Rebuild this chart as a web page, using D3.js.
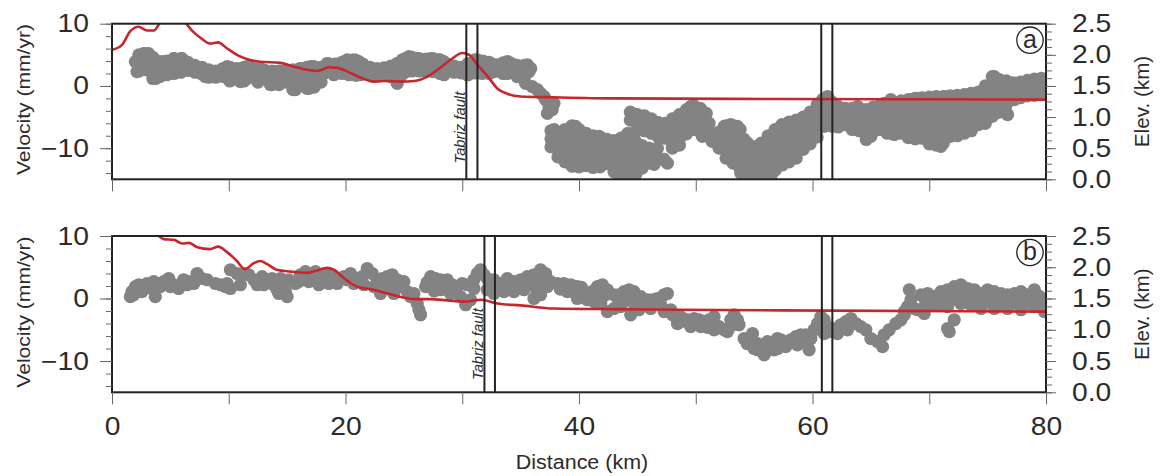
<!DOCTYPE html>
<html><head><meta charset="utf-8">
<script src="https://cdn.jsdelivr.net/npm/d3@7"></script>
<style>
body{margin:0;background:#fff}
svg{display:block}
text{font-family:"Liberation Sans",Arial,Helvetica,sans-serif;fill:#2b2b2b}
</style>
</head><body>
<svg id="chart" width="1161" height="476"></svg>
<script>
// ---------- data ----------
const distDomain = [0, 80];
const velDomain = [-15, 10];
const elevDomain = [0, 2.5];
const distTicksAll = [0, 10, 20, 30, 40, 50, 60, 70, 80];
const distTickLabels = [0, 20, 40, 60, 80];
const velTicks = [-10, 0, 10];
const velMinorTicks = [-14, -12, -10, -8, -6, -4, -2, 0, 2, 4, 6, 8, 10];
const elevTicks = [0, 0.5, 1.0, 1.5, 2.0, 2.5];
const elevMinorTicks = [0, 0.125, 0.25, 0.375, 0.5, 0.625, 0.75, 0.875, 1, 1.125, 1.25, 1.375, 1.5, 1.625, 1.75, 1.875, 2, 2.125, 2.25, 2.375, 2.5];
const panelLabels = ["a", "b"];
const faultsA = [30.35, 31.3, 60.75, 61.7];
const faultsB = [31.9, 32.8, 60.8, 61.7];
const faultName = "Tabriz fault";

// elevation profiles (km, elevation km)
const elevA = [[0,2.08],[0.86,2.16],[1.57,2.38],[2.28,2.45],[3.0,2.39],[3.6,2.39],[4.1,2.51],[5.2,2.62],[6.3,2.51],[6.9,2.38],[7.6,2.27],[8.4,2.18],[9.1,2.2],[9.8,2.11],[10.7,2.0],[11.6,1.93],[12.7,1.89],[14.4,1.87],[15.6,1.81],[16.7,1.76],[17.6,1.74],[18.6,1.80],[19.3,1.79],[20.4,1.71],[21.6,1.61],[22.4,1.57],[23.6,1.58],[24.7,1.57],[25.9,1.58],[27.0,1.65],[28.1,1.79],[29.0,1.92],[30.0,2.03],[30.6,2.0],[31.3,1.84],[32.2,1.65],[33.0,1.46],[33.9,1.37],[35.0,1.33],[37.3,1.32],[43,1.30],[57.3,1.29],[80,1.28]];
const elevB = [[0,2.75],[2,2.7],[3.2,2.58],[4.0,2.5],[4.43,2.45],[5.3,2.44],[6.0,2.38],[6.6,2.39],[7.3,2.32],[8.4,2.29],[9.1,2.33],[9.8,2.25],[10.6,2.12],[11.4,1.97],[12.1,2.06],[12.7,2.10],[13.3,2.05],[14.1,1.96],[15.3,1.93],[16.7,1.91],[17.6,1.95],[18.4,1.99],[19.0,1.96],[19.9,1.82],[21.0,1.69],[22.4,1.64],[23.6,1.58],[24.4,1.54],[25.9,1.49],[27.3,1.49],[28.7,1.47],[30.2,1.45],[31.6,1.48],[33.0,1.42],[35.0,1.39],[37.9,1.34],[43,1.33],[48.7,1.32],[57.3,1.31],[80,1.29]];

// velocity points (km, mm/yr) — individually read dots
const velA = [[2.0,3.9],[2.14,2.3],[2.43,4.7],[2.71,5.2],[3.14,5.2],[3.0,3.6],[2.57,3.1],[3.71,1.2],[3.86,1.8],[4.14,2.6],[4.71,3.4],[5.0,3.9],[5.29,4.4],[5.57,4.2],[6.0,4.4],[6.29,3.9],[6.43,2.8],[5.86,2.8],[4.71,2.3],[4.29,2.0],[3.86,3.1],[4.43,3.9],[6.86,3.1],[7.29,2.6],[7.86,2.6],[8.29,2.0],[8.71,1.8],[9.29,2.3],[9.86,3.1],[10.14,1.0],[10.43,1.5],[9.57,1.5],[9.0,1.8],[7.57,2.8],[8.0,1.5],[10.71,2.3],[11.0,0.7],[11.57,3.1],[12.14,2.6],[12.71,2.8],[13.29,2.0],[13.57,0.2],[14.14,0.4],[14.71,1.8],[12.43,1.0],[13.0,1.2],[11.57,1.2],[13.86,2.3],[15.0,1.0],[15.29,0.7],[15.71,-0.6],[16.14,0.2],[16.43,1.5],[16.86,-0.4],[17.29,-0.1],[17.71,1.0],[18.14,2.0],[18.43,3.6],[17.86,2.8],[17.0,3.1],[16.14,2.8],[15.57,2.3],[18.71,2.6],[19.0,3.1],[19.57,3.6],[20.14,4.2],[20.71,4.2],[21.14,3.9],[21.57,3.1],[22.14,2.6],[22.71,2.0],[23.29,1.8],[23.86,2.3],[24.43,3.6],[24.71,1.5],[20.43,2.3],[21.29,1.8],[19.0,1.8],[19.71,2.0],
[23.14,2.3],[23.57,2.8],[24.14,2.6],[24.43,0.4],[23.86,1.5],[24.71,2.0],[24.86,4.2],[25.43,4.7],[26.14,4.4],[26.71,4.2],[27.29,4.4],[27.86,4.2],[28.43,3.9],[25.29,3.1],[26.43,2.8],[27.57,2.6],[28.43,1.8],[24.71,3.1],[25.86,3.4],[27.0,3.4],[29.0,3.1],[29.57,2.6],[30.14,2.3],[30.71,3.6],[31.29,4.2],[31.86,3.9],[32.43,3.6],[33.0,3.1],[33.86,3.9],[34.43,3.4],[35.0,3.1],[35.57,3.4],[30.43,1.8],[31.57,2.3],[32.71,2.3],[33.86,2.0],[35.0,1.5],[35.43,0.4],[35.71,2.3],[35.86,2.8],[36.0,-0.1],[36.43,-0.6],[36.71,-1.2],[37.14,-2.2],[37.43,-3.3],[37.71,-3.8],[37.29,-4.4],[37.86,-2.8],[37.0,-1.7],
[37.86,-7.0],[38.0,-8.6],[38.14,-9.7],[38.43,-8.1],[38.86,-7.3],[39.29,-6.8],[39.71,-6.5],[40.14,-7.6],[40.43,-8.6],[40.86,-9.2],[41.29,-9.7],[41.71,-8.1],[42.14,-8.6],[42.71,-9.2],[43.14,-9.7],[43.57,-9.2],[44.14,-8.1],[44.71,-9.2],[45.14,-10.2],[45.57,-11.0],[46.14,-10.5],[46.71,-10.0],[47.29,-11.8],[47.57,-12.4],[38.43,-10.8],[39.0,-11.8],[39.43,-12.9],[39.86,-11.3],[40.71,-11.0],[41.57,-11.3],[42.43,-11.8],[43.0,-12.9],[43.57,-14.2],[44.71,-14.0],[45.57,-12.4],[46.43,-12.6],[40.14,-12.4],[41.29,-12.6],[42.43,-10.8],[44.14,-10.8],[39.57,-9.7],[39.0,-9.2],[43.29,-14.0],[44.86,-14.2],
[44.57,-4.4],[45.0,-5.2],[45.57,-4.9],[46.14,-5.7],[46.71,-6.2],[47.29,-7.6],[47.86,-6.5],[48.43,-5.4],[49.0,-4.4],[49.57,-3.3],[50.14,-3.8],[50.71,-4.9],[51.14,-6.0],[45.86,-6.5],[47.0,-8.1],[48.14,-8.6],[49.0,-7.3],[49.86,-6.0],[50.43,-7.0],[47.86,-7.6],[46.43,-7.6],
[50.57,-8.1],[51.29,-7.8],[51.86,-8.4],[52.43,-6.5],[53.0,-6.2],[53.57,-6.5],[52.71,-11.3],[53.29,-9.7],[53.86,-10.8],[54.43,-11.8],[55.0,-12.9],[55.57,-12.9],[56.14,-11.3],[56.57,-8.6],[57.0,-7.0],[57.29,-6.5],[52.14,-9.7],[54.43,-9.2],[55.29,-10.5],[55.86,-14.0],[56.71,-13.4],[53.86,-14.0],[54.71,-14.5],[56.43,-14.5],[57.0,-10.2],[53.57,-8.1],[54.14,-8.6],
[60.86,-2.2],[61.14,-3.3],[61.29,-1.7],[61.57,-4.9],[61.0,-6.5],[61.71,-6.5],[62.14,-4.4],[62.71,-3.8],[63.29,-4.4],[63.86,-3.3],[64.43,-4.4],[64.71,-5.7],[65.0,-8.1],[65.29,-6.5],[65.57,-3.8],[66.14,-2.8],[66.71,-2.2],[67.29,-3.8],[68.43,-2.2],[69.0,-2.0],[71.29,-1.7],[73.0,-1.7],[73.57,-1.2],[74.71,-1.2],[75.29,-0.6],[71.0,-9.7],[69.86,-8.6],[76.71,-4.6],[76.14,-3.8],[75.57,1.5],[75.86,-0.1],[76.43,0.7],[77.0,0.4],[77.57,-1.2],[78.14,-0.1],[78.71,0.4],[79.29,1.0],[79.86,-0.1],[79.9,-1.2],[76.14,-1.7],[77.29,-2.2],[78.43,-0.6],[79.57,-1.2],[75.29,-0.9]];

// dense parts of the clouds, read column by column: [km, vel, vel, ...]
const velACols = [
[2.3,5.0,3.7,2.4],[2.9,5.2,3.9,2.6],[3.5,4.6,3.3,2.0,1.2],[4.1,3.9,2.6,1.5],[4.7,4.0,2.7,1.8],[5.3,4.4,3.1,2.0],[5.9,4.4,3.1,2.2],[6.5,3.8,2.5],[7.1,3.3,2.2],[7.7,3.0,1.9],[8.3,2.6,1.4],[8.9,2.4,1.4],[9.5,2.8,1.6],[10.1,3.0,1.8,0.8],[10.7,2.8,1.6],[11.3,3.0,1.8,0.8],[11.9,3.0,1.8],[12.5,2.8,1.6,0.6],[13.1,2.5,1.3],[13.7,2.4,1.2,0.2],[14.3,2.4,1.2,0.2],[14.9,2.5,1.3,0.6],[15.5,2.6,1.4,0.2,-0.6],[16.1,2.8,1.6,0.4],[16.7,3.0,1.8,0.6,-0.4],[17.3,3.1,1.9,0.7,-0.2],[17.9,3.0,1.8,0.6],[18.5,3.6,2.4],[19.1,3.5,2.3],[19.7,3.8,2.6],[20.3,4.1,2.9,1.8],[20.9,4.1,2.9,1.7],[21.5,3.5,2.3],[22.1,3.0,1.8],[22.7,2.8,1.6],[23.3,2.9,1.7],[23.9,3.2,2.0],[24.5,3.6,2.4,1.2],[25.1,4.4,3.2,2.2],[25.7,4.6,3.4,2.4],[26.3,4.4,3.2,2.4],[26.9,4.3,3.1,2.3],[27.5,4.4,3.2,2.3],[28.1,4.2,3.0,2.0],[28.7,3.5,2.3],[29.3,3.2,2.2],[29.9,3.0,2.1],[30.5,3.6,2.4,1.8],[31.1,4.2,3.0,2.1],[31.7,4.0,2.8,2.0],[32.3,3.8,2.6,2.0],[32.9,3.4,2.4],[33.5,3.7,2.5,2.0],[34.1,3.7,2.5],[34.7,3.3,2.1,1.5],[35.3,3.3,2.1,1.0],
[37.6,-7.2,-8.5,-9.8],[38.2,-7.5,-8.8,-10.1,-11.4],[38.8,-7.0,-8.3,-9.6,-10.9,-12.2],[39.4,-6.4,-7.7,-9.0,-10.3,-11.6,-12.8],[40.0,-7.0,-8.3,-9.6,-10.9,-12.2,-13.0],[40.6,-7.6,-8.9,-10.2,-11.5,-12.8],[41.2,-8.0,-9.3,-10.6,-11.9,-13.1],[41.8,-8.2,-9.5,-10.8,-12.1,-13.0],[42.4,-8.6,-9.9,-11.2,-12.5],[43.0,-8.8,-10.1,-11.4,-12.7,-13.8],[43.6,-8.4,-9.7,-11.0,-12.3,-13.8],[44.2,-7.6,-8.9,-10.2,-11.5,-12.8,-14.1],[44.8,-8.8,-10.1,-11.4,-12.7,-14.0],[45.4,-9.6,-10.9,-12.2,-13.2],[46.0,-10.0,-11.3,-12.4],[46.6,-10.2,-11.5],[47.2,-11.8],
[44.4,-4.2,-5.5],[45.0,-4.6,-5.9,-7.0],[45.6,-4.8,-6.1,-7.2],[46.2,-5.3,-6.6,-7.6],[46.8,-5.9,-7.2,-8.2],[47.4,-6.0,-7.3,-8.4],[48.0,-5.3,-6.6,-7.9,-9.2,-10.0],[48.6,-4.6,-5.9,-7.2,-8.5,-9.5],[49.2,-3.8,-5.1,-6.4,-7.7],[49.8,-3.1,-4.4,-5.7,-7.0],[50.4,-3.6,-4.9,-6.2,-7.4],[50.9,-4.4,-5.7,-7.0],
[51.4,-7.6,-8.9],[52.0,-7.4,-8.7,-10.0],[52.6,-6.4,-7.7,-9.0,-10.3,-11.6],[53.2,-6.4,-7.7,-9.0,-10.3,-11.6,-12.4],[53.8,-7.0,-8.3,-9.6,-10.9,-12.2,-13.3],
[54.4,-9.4,-10.7,-12.0,-13.3],[55.0,-9.8,-11.1,-12.4,-13.7,-14.6],[55.6,-9.2,-10.5,-11.8,-13.1,-14.4],[56.2,-8.0,-9.3,-10.6,-11.9,-13.2,-14.3],[56.8,-7.0,-8.3,-9.6,-10.9,-12.2,-13.5],[57.4,-6.2,-7.5,-8.8,-10.1,-11.4,-12.7],[58.0,-5.8,-7.1,-8.4,-9.7,-11.0,-12.2],[58.6,-5.5,-6.8,-8.1,-9.4,-10.7,-11.6],[59.2,-5.0,-6.3,-7.6,-8.9,-10.2],[59.8,-4.2,-5.5,-6.8,-8.0,-9.3],[60.4,-3.0,-4.3,-5.6,-6.9,-8.2],[61.0,-2.4,-3.7,-5.0,-6.3],
[61.6,-2.5,-3.8,-5.1,-6.4],[62.2,-3.3,-4.6,-5.9,-6.6],[62.8,-3.6,-4.9,-6.2],[63.4,-3.6,-4.9,-6.2,-7.0],[64.0,-3.6,-4.9,-6.2,-7.2],[64.6,-3.8,-5.1,-6.4,-7.7,-8.6],[65.2,-3.4,-4.7,-6.0,-7.3],[65.8,-3.1,-4.4,-5.7,-7.0],[66.4,-2.9,-4.2,-5.5,-6.8,-7.6],[67.0,-2.6,-3.9,-5.2,-6.5,-7.8],[67.6,-2.4,-3.7,-5.0,-6.3,-7.6],[68.2,-2.2,-3.5,-4.8,-6.1,-7.4,-8.3],[68.8,-2.0,-3.3,-4.6,-5.9,-7.2,-8.5],[69.4,-1.9,-3.2,-4.5,-5.8,-7.1,-8.4],[70.0,-1.8,-3.1,-4.4,-5.7,-7.0,-8.3,-9.3],[70.6,-1.7,-3.0,-4.3,-5.6,-6.9,-8.2,-9.5],[71.2,-1.7,-3.0,-4.3,-5.6,-6.9,-8.2,-9.2],[71.8,-1.6,-2.9,-4.2,-5.5,-6.8,-8.1],[72.4,-1.5,-2.8,-4.1,-5.4,-6.7,-8.0],[73.0,-1.4,-2.7,-4.0,-5.3,-6.6,-7.6],[73.6,-1.3,-2.6,-3.9,-5.2,-6.5,-7.2],[74.2,-1.0,-2.3,-3.6,-4.9,-6.2],[74.8,0.0,-1.3,-2.6,-3.9,-5.2,-6.0],[75.4,1.5,0.3,-1.0,-2.3,-3.6,-4.9],[76.0,1.0,-0.3,-1.6,-2.9,-4.2],[76.6,0.8,-0.5,-1.8,-3.0,-4.3],[77.2,0.5,-0.8,-2.0],[77.8,0.6,-0.7,-1.9],[78.4,0.9,-0.4,-1.6],[79.0,1.1,-0.2,-1.5],[79.6,1.2,-0.1,-1.3]];

const velB = [[1.57,0.3],[1.71,1.1],[2.0,1.9],[2.29,2.2],[2.57,1.1],[3.0,2.4],[3.43,1.6],[3.71,0.3],[3.86,2.4],[4.14,1.9],[1.86,0.6],[2.71,1.6],[3.57,2.7],[4.43,2.7],[4.86,3.2],[5.29,2.2],[5.71,1.6],[6.14,3.0],[6.71,2.7],[7.29,4.0],[7.71,3.2],[8.14,3.0],[6.43,2.2],[7.0,2.4],[5.0,1.9],[6.0,2.4],[8.86,2.4],[9.29,2.2],[9.71,1.9],[10.14,1.6],[9.86,2.4],[10.14,4.6],[10.71,4.0],[11.0,2.2],[11.29,4.0],[11.71,3.8],[12.14,3.0],[12.43,2.2],[12.86,3.5],[13.29,3.0],[13.71,3.2],[14.14,1.4],[14.57,1.9],[15.0,0.3],[15.14,3.0],[13.86,2.2],[13.0,2.2],[14.43,3.2],[14.86,1.1],[14.29,0.8],[15.71,2.4],[16.14,3.8],[16.57,4.3],[17.0,3.8],[17.43,4.3],[17.86,3.0],[18.29,4.0],[18.71,3.8],[19.0,3.2],[16.0,2.7],[16.86,2.7],[17.71,2.2],[18.57,2.4],[19.29,2.4],[19.86,3.5],[20.43,4.0],[21.0,3.2],[21.43,3.5],[21.86,4.8],[22.29,4.0],[22.71,3.0],[23.14,3.2],[23.57,3.5],[24.0,3.8],[24.43,3.0],[24.71,2.4],[23.0,0.8],[20.71,2.4],[21.57,2.2],[22.43,1.9],[23.86,1.9],[20.14,3.0],
[23.14,3.0],[23.57,3.2],[24.0,2.4],[24.43,1.9],[24.86,1.9],[25.29,1.1],[25.86,0.8],[26.14,-0.8],[26.43,-2.6],[26.29,-1.8],[25.57,0.3],[24.14,0.8],[25.0,2.7],[23.29,1.9],[26.86,1.9],[27.29,3.5],[27.71,3.2],[28.14,3.0],[28.71,3.0],[29.14,2.2],[29.57,1.9],[30.0,2.4],[30.43,2.2],[30.86,2.2],[31.29,4.0],[31.57,4.6],[29.86,0.3],[30.29,-1.0],[30.71,-0.2],[29.0,0.8],[28.14,1.4],[28.71,1.4],[31.86,3.8],[32.14,3.2],[32.71,3.0],[33.29,2.4],[33.86,3.2],[34.43,2.7],[35.0,3.0],[35.57,3.5],[36.14,3.8],[36.71,4.6],[37.14,4.0],[37.29,1.9],[36.71,0.6],[36.14,0.0],[35.29,1.4],[34.43,1.1],[33.57,1.1],[32.71,0.8],[32.14,1.4],[37.0,2.4],[37.57,2.7],[38.14,2.4],[38.71,2.4],[39.29,2.2],[39.86,1.9],[40.43,1.1],[41.0,0.8],[41.57,1.9],[42.0,2.2],[42.43,1.4],[43.0,0.6],[39.0,1.1],[39.86,0.0],[40.71,-0.2],[41.29,-0.5],[41.86,-0.8],[42.43,-2.1],[43.0,-1.6],[43.43,0.6],[43.86,1.1],[44.29,1.4],[44.71,1.1],[45.29,0.3],[45.86,-0.2],[46.29,-0.2],[46.71,0.0],[47.29,0.6],[47.57,0.8],[43.57,-1.3],[44.43,-2.6],[45.14,-1.8],[46.14,-1.6],[47.0,-1.0],[47.29,-2.1],[43.86,-0.5],[47.86,-1.8],[48.29,-2.9],[48.71,-2.9],[49.29,-3.4],[49.86,-3.2],[50.29,-3.4],[50.71,-4.0],[51.14,-3.4],[51.57,-2.9],[52.0,-4.5],[52.43,-5.0],[53.0,-3.4],[53.29,-2.6],[53.57,-3.4],[48.43,-4.0],[49.57,-4.5],[50.43,-4.5],[51.57,-5.0],[52.71,-5.3],[53.71,-4.2],[54.14,-6.4],[54.57,-6.6],[54.86,-5.6],[55.29,-7.2],[55.71,-7.7],[56.14,-8.2],[56.57,-7.2],[57.0,-6.4],[57.29,-7.2],[55.0,-8.0],[55.86,-9.0],[56.71,-8.2],
[55.57,-8.0],[56.0,-8.5],[56.43,-7.7],[56.86,-7.2],[57.29,-6.6],[57.71,-7.7],[58.14,-6.6],[58.57,-6.1],[59.0,-5.8],[59.43,-5.8],[59.71,-8.2],[56.14,-6.9],[57.0,-8.0],[57.86,-7.2],[58.71,-7.4],[59.29,-6.6],[59.86,-6.4],[60.14,-5.0],[60.43,-4.0],[60.71,-2.9],[61.0,-3.4],[61.29,-4.5],[61.57,-5.3],[62.0,-4.8],[62.43,-4.2],[62.86,-3.7],[63.29,-3.2],[63.71,-4.0],[64.14,-4.5],[64.57,-5.0],[61.0,-5.6],[62.14,-5.6],[63.0,-5.0],[65.0,-6.4],[65.57,-6.9],[66.0,-7.7],[66.14,-5.8],[66.57,-5.0],[67.14,-4.0],[67.57,-3.4],[67.86,-2.6],[68.14,-1.3],[68.43,-0.2],[68.29,1.4],[68.71,-1.6],[69.0,-1.8],[67.86,-2.1],[69.29,0.6],[69.86,0.8],[70.43,0.3],[71.0,1.1],[71.57,1.4],[72.14,1.9],[72.71,2.2],[73.29,1.6],[73.86,1.4],[74.43,0.8],[75.0,1.4],[75.57,1.1],[76.14,0.8],[76.71,0.6],[77.29,0.8],[77.86,1.1],[78.43,0.6],[79.0,1.4],[79.57,0.0],[79.9,-0.5],[69.86,-0.8],[70.71,-1.0],[71.57,-1.3],[72.71,-0.8],[73.57,-1.0],[74.43,-1.6],[75.57,-1.6],[76.71,-1.6],[77.86,-1.8],[79.0,-1.3],[79.86,-2.1],[69.57,-2.4],[71.0,-0.2],[73.0,0.0],[75.29,-0.5],[77.57,-0.5],[79.29,-0.8],[71.57,-4.8],[71.71,-5.3],[72.14,-3.4]];

const velBCols = [
[27.0,2.6],[27.6,2.2,1.2],[28.4,2.4],[29.2,1.5],[31.0,3.0,1.6],[32.4,2.2],[33.0,1.8],[34.0,2.0],[35.6,2.2],[36.4,2.8,1.2],[38.4,1.5],[39.6,1.0],[40.2,1.8],[41.2,1.2,0.2],[42.2,0.5],[43.4,-0.4],[44.2,0.2],[44.8,-0.5,-1.6],[45.6,-0.8],[46.6,-0.8],[48.0,-2.6],[48.9,-3.6],[50.0,-3.8],[51.0,-4.6],[53.0,-4.4],[54.4,-7.2],[55.3,-8.2],
[69.6,0.0,-1.4],[70.2,0.0,-1.0],[70.8,0.4,-0.5],[71.4,0.6,-0.5],[72.0,1.0,0.0],[72.4,1.2,-0.2],[73.2,0.6,-0.6],[74.0,0.4,-0.6],[74.8,0.6,-0.6],[75.4,0.4,-0.6],[76.2,0.0,-0.8],[77.0,0.2,-0.8],[77.8,0.2,-0.8],[78.6,0.0,-0.8],[79.4,0.4,-0.4]];

// ---------- layout ----------
const left = 112, right = 1046;
const flatten = cols => cols.flatMap(r => r.slice(1).map(v => [r[0], v]));
const panels = [
  {top: 23.7, bottom: 179.3, vel: velA.concat(flatten(velACols)), elev: elevA, faults: faultsA, label: panelLabels[0], showX: false, faultLabelVel: -6.7},
  {top: 236, bottom: 392.3, vel: velB.concat(flatten(velBCols)), elev: elevB, faults: faultsB, label: panelLabels[1], showX: true, faultLabelVel: -7.3}
];
const svg = d3.select("#chart");
const x = d3.scaleLinear().domain(distDomain).range([left, right]);
const ink = "#222";
const stretch = 1.13;

function stretchText(sel, factor){
  sel.each(function(){
    const len = this.getComputedTextLength();
    d3.select(this).attr("textLength", len*factor).attr("lengthAdjust","spacingAndGlyphs");
  });
}

panels.forEach((p, i) => {
  const yV = d3.scaleLinear().domain(velDomain).range([p.bottom, p.top]);
  const yE = d3.scaleLinear().domain(elevDomain).range([p.bottom, p.top]);
  const g = svg.append("g");
  const clipId = "clip" + i;
  svg.append("clipPath").attr("id", clipId).append("rect")
    .attr("x", left).attr("y", p.top).attr("width", right-left).attr("height", p.bottom-p.top);
  const plot = g.append("g").attr("clip-path", `url(#${clipId})`);

  plot.selectAll("circle.dot").data(p.vel).join("circle")
    .attr("class","dot")
    .attr("cx", d => x(d[0])).attr("cy", d => yV(d[1])).attr("r", 6.6)
    .attr("fill", "#838383");

  plot.append("path").datum(p.elev)
    .attr("d", d3.line().x(d => x(d[0])).y(d => yE(d[1])).curve(d3.curveMonotoneX))
    .attr("fill","none").attr("stroke","#c8262c").attr("stroke-width",2.6);

  g.selectAll("line.fault").data(p.faults).join("line")
    .attr("class","fault")
    .attr("x1", d => x(d)).attr("x2", d => x(d))
    .attr("y1", p.top).attr("y2", p.bottom)
    .attr("stroke", ink).attr("stroke-width", 2);

  const fx = x(p.faults[0]) - 1.5, fy = yV(p.faultLabelVel);
  g.append("text").attr("transform", `translate(${fx},${fy}) rotate(-90)`)
    .attr("text-anchor","middle").attr("font-style","italic").attr("font-size",14.5)
    .text(faultName).call(stretchText, 1.02);

  g.append("rect").attr("x", left).attr("y", p.top).attr("width", right-left).attr("height", p.bottom-p.top)
    .attr("fill","none").attr("stroke", ink).attr("stroke-width", 2);

  const la = g.append("g").attr("transform", `translate(${left},0)`);
  la.call(d3.axisLeft(yV).tickValues(velMinorTicks).tickSize(6).tickFormat(""));
  const lm = g.append("g").attr("transform", `translate(${left},0)`);
  lm.call(d3.axisLeft(yV).tickValues(velTicks).tickSize(12).tickPadding(11));
  [la, lm].forEach(a => { a.select(".domain").remove(); a.selectAll("line").attr("stroke","#666").attr("stroke-width",1); });
  lm.selectAll("text").attr("font-size", 25).attr("font-family","Liberation Sans, Arial, sans-serif").attr("fill","#2b2b2b").call(stretchText, stretch);

  const ra = g.append("g").attr("transform", `translate(${right},0)`);
  ra.call(d3.axisRight(yE).tickValues(elevMinorTicks).tickSize(6).tickFormat(""));
  const rm = g.append("g").attr("transform", `translate(${right},0)`);
  rm.call(d3.axisRight(yE).tickValues(elevTicks).tickSize(10).tickPadding(16).tickFormat(d3.format(".1f")));
  [ra, rm].forEach(a => { a.select(".domain").remove(); a.selectAll("line").attr("stroke","#666").attr("stroke-width",1); });
  rm.selectAll("text").attr("font-size", 25).attr("font-family","Liberation Sans, Arial, sans-serif").attr("fill","#2b2b2b").call(stretchText, stretch);

  const ba = g.append("g").attr("transform", `translate(0,${p.bottom})`);
  ba.call(d3.axisBottom(x).tickValues(distTicksAll).tickSize(12).tickFormat(""));
  ba.select(".domain").remove();
  ba.selectAll("line").attr("stroke","#666").attr("stroke-width",1);
  if (p.showX) {
    const bl = g.append("g").attr("transform", `translate(0,${p.bottom})`);
    bl.call(d3.axisBottom(x).tickValues(distTickLabels).tickSize(0).tickPadding(25));
    bl.select(".domain").remove();
    bl.selectAll("text").attr("font-size", 25).attr("font-family","Liberation Sans, Arial, sans-serif").attr("fill","#2b2b2b").call(stretchText, stretch);
  }

  const midY = (p.top + p.bottom)/2;
  g.append("text").attr("transform", `translate(24,${midY-2}) rotate(-90)`)
    .attr("text-anchor","middle").attr("dy","0.35em").attr("font-size",18.5)
    .text("Velocity (mm/yr)").call(stretchText, 1.14);
  g.append("text").attr("transform", `translate(1142,${midY}) rotate(-90)`)
    .attr("text-anchor","middle").attr("dy","0.35em").attr("font-size",19.5)
    .text("Elev. (km)").call(stretchText, 1.06);

  const cx = right - 16, cy = p.top + 16.5;
  g.append("circle").attr("cx", cx).attr("cy", cy).attr("r", 13.2)
    .attr("fill","#fff").attr("stroke", ink).attr("stroke-width", 1.3);
  g.append("text").attr("x", cx).attr("y", cy).attr("dy","0.3em").attr("text-anchor","middle")
    .attr("font-size", 25).text(p.label);
});

svg.append("text").attr("x", (left+right)/2 + 3).attr("y", 469).attr("text-anchor","middle")
  .attr("font-size", 19.5).text("Distance (km)").call(stretchText, 1.1);
</script>
</body></html>
